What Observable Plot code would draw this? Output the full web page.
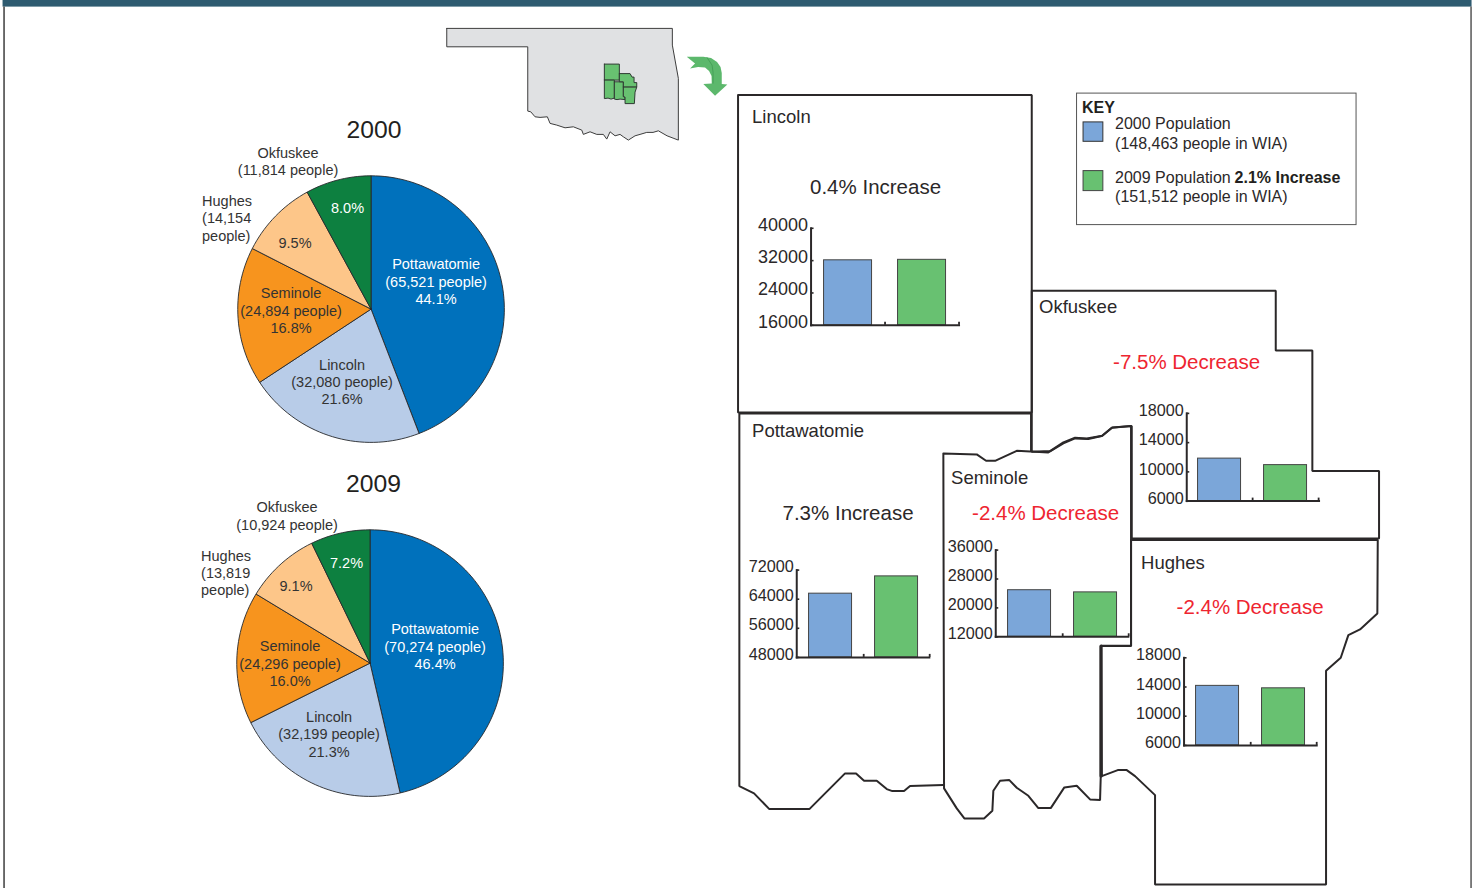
<!DOCTYPE html>
<html>
<head>
<meta charset="utf-8">
<title>Population in WIA, 2000 and 2009</title>
<script src="https://cdn.jsdelivr.net/npm/d3@7"></script>
<script src="https://cdn.jsdelivr.net/npm/@observablehq/plot@0.6"></script>
<style>
  html, body { margin: 0; padding: 0; background: #fff; }
  #page { position: relative; width: 1477px; height: 888px; overflow: hidden; font-family: "Liberation Sans", Arial, sans-serif; }
  #page > svg, #page > figure { position: absolute; margin: 0; transform: translate(-0.45px, -0.4px); }
</style>
</head>
<body>
<div id="page"></div>
<script>
// ---- Data ----
const counties = ["Pottawatomie", "Lincoln", "Seminole", "Hughes", "Okfuskee"];
const pop2000 = [65521, 32080, 24894, 14154, 11814];
const pop2009 = [70274, 32199, 24296, 13819, 10924];
const years = ["2000", "2009"];

const lincolnTicks = [16000, 24000, 32000, 40000];
const okfuskeeTicks = [6000, 10000, 14000, 18000];
const pottawatomieTicks = [48000, 56000, 64000, 72000];
const seminoleTicks = [12000, 20000, 28000, 36000];
const hughesTicks = [6000, 10000, 14000, 18000];

// ---- Colours ----
const INK = "#2b2829", RED = "#ee2530", BLUE = "#7ba6d9", GREEN = "#68c171";
const sliceColors = ["#0071bc", "#b8cce8", "#f7941e", "#fdc689", "#0d8040"];

// ---- Outlines ----
const oklahoma = [[446.7,28.3],[672.3,28.3],[672.3,45],[678.3,78.3],[678.3,140],[673,138],[667,135.7],[658.3,130.7],[653,132.3],[646.7,132.3],[640,134.3],[635,135.7],[628.3,140],[623.3,136.7],[620,134.3],[615,135.7],[610,131.7],[606.7,139],[603.3,134.3],[596.7,134.3],[590,131.7],[583.3,134.3],[581.7,130],[573.3,126.7],[565,127.7],[556.7,125],[550,123.3],[547.3,116.7],[540,117.3],[535,116.7],[530.7,111.7],[527.7,111],[527.7,46.7],[446.7,46.7],[446.7,28.3]];
const miniCounties = [
  [[604.3,64],[619.3,64],[619.3,80],[604.3,80],[604.3,64]],
  [[604.3,80],[614.3,80],[614.3,98],[611,99],[608,98],[604.3,98.5],[604.3,80]],
  [[614.3,81.7],[623.3,81.7],[623.3,96.5],[625,97],[625,99.5],[620,99],[617,99.5],[614.3,99],[614.3,81.7]],
  [[619.3,73.5],[630,73.5],[632,77],[634,77],[634,82.5],[636.7,82.5],[636.7,87],[623.3,87],[623.3,81.7],[619.3,81.7],[619.3,73.5]],
  [[623.3,87],[636.7,87],[635,92],[634.3,103.5],[625,103.5],[625,97],[623.3,96.5],[623.3,87]]
];
const arrow = [[686.7,56.7],[703.3,56.7],[711,58],[717,62],[720.5,67],[721.7,73],[721.7,84],[727.3,84.3],[715,95.7],[703.3,84],[711.7,83.3],[711.5,76],[709,71],[705,67.5],[698,67],[690,68.3],[695,63.3],[686.7,56.7]];
const arrowFold = [[707,57.5],[712,65],[713,72],[713,83]];
const lincolnShape = [[738,95],[1031.7,95],[1031.7,412.5],[738,412.5],[738,95]];
const okfuskeeShape = [[1031.7,290.7],[1275.7,290.7],[1275.7,350.3],[1312.3,350.3],[1312.3,471],[1379,471],[1379,538.5],[1131.7,538.5],[1131.7,426],[1112.3,427.3],[1102.3,435.7],[1086.7,438.3],[1075,437.7],[1063.3,442.3],[1050,451],[1031.7,451.7],[1031.7,290.7]];
const pottawatomieShape = [[1031,413.5],[739.3,413.5],[739.3,786],[754,793.3],[769.3,809],[809.3,809],[845,773.3],[856,773.3],[864,780.7],[876.7,780.7],[886.7,789],[892.3,791],[904,791],[910,786],[943.3,785]];
const pottawatomieEast = [[1031,413.5],[1031,451]];
const seminoleShape = [[943.3,453.3],[976.7,454.3],[986,460.7],[995,460.7],[1016.7,450.7],[1048.3,452.3],[1063.3,443.3],[1075,438.3],[1088.3,439],[1101.7,436],[1111.7,427.7],[1131,426],[1131,646],[1100.7,646],[1100.7,776],[1100,800],[1090,799.3],[1076.7,785.7],[1064.3,787.3],[1050.7,808],[1038.3,808],[1028.3,795.7],[1016.7,787.7],[1009.3,780],[1000,780.7],[993.3,790.7],[992.3,810.7],[984,818.3],[964.3,818.3],[956.7,808.3],[944,788.3],[943.3,453.3]];
const hughesShape = [[1131,540],[1377.7,540],[1377.3,613.3],[1360,629.3],[1348.3,635],[1340.7,657.7],[1326,670.7],[1326,884.3],[1155,884.3],[1155,795],[1135,776],[1126.7,770],[1117.7,770],[1101.7,776],[1101,645.7],[1131,645.7],[1131,540]];
const hughesWest = [[1101,646],[1101,776]];

// ---- Text (line, x, y) ----
const leftLabels = [
  ["Lincoln",752,116.5],["Okfuskee",1039,306.5],["Pottawatomie",752,430.5],["Seminole",951,477.5],["Hughes",1141,562.5]
];
const blackNotes = [["0.4% Increase",875.5,187],["7.3% Increase",848,513]];
const redNotes = [["-7.5% Decrease",1186.5,362],["-2.4% Decrease",1045.5,513],["-2.4% Decrease",1250,607]];
const yearTitles = [["2000",374,129.5],["2009",373.5,483.5]];
const pieInkCenter = [
  ["Okfuskee",288,153],["(11,814 people)",288,170.5],
  ["9.5%",295,243],
  ["Lincoln",342,365],["(32,080 people)",342,382],["21.6%",342,399],
  ["Seminole",291,293],["(24,894 people)",291,311],["16.8%",291,328],
  ["Okfuskee",287,507],["(10,924 people)",287,525],
  ["9.1%",296,586],
  ["Lincoln",329,717],["(32,199 people)",329,734],["21.3%",329,752],
  ["Seminole",290,646],["(24,296 people)",290,664],["16.0%",290,681]
];
const pieInkLeft = [
  ["Hughes",202,201],["(14,154",202,218],["people)",202,236],
  ["Hughes",201,556],["(13,819",201,573],["people)",201,590]
];
const pieWhite = [
  ["8.0%",347.5,208],["Pottawatomie",436,264],["(65,521 people)",436,282],["44.1%",436,299],
  ["7.2%",346.5,563],["Pottawatomie",435,629],["(70,274 people)",435,647],["46.4%",435,664]
];
const keyLines = [
  ["2000 Population",1115,124],["(148,463 people in WIA)",1115,144],
  ["2009 Population",1115,178],["(151,512 people in WIA)",1115,197]
];
const keyBold = [["KEY",1082,107.5],["2.1% Increase",1234.5,178]];

const page = document.getElementById("page");
const baseStyle = {background: "transparent", overflow: "visible", fontFamily: '"Liberation Sans", Arial, sans-serif'};
function place(el, left, top) {
  el.style.left = left + "px";
  el.style.top = top + "px";
  page.appendChild(el);
}

// ---- Pies (lowest layer) ----
const PIE_SIZE = 270, PIE_RADIUS = 133.3, ARC_STEPS = 2; // degrees per sample
function piePlot(values, cx, cy) {
  const arcs = d3.pie().sort(null)(values);
  const pts = arcs.flatMap((a, i) => {
    const out = [{name: counties[i], x: 0, y: 0}];
    const n = Math.max(2, Math.ceil((a.endAngle - a.startAngle) * 180 / Math.PI / ARC_STEPS));
    for (let k = 0; k <= n; ++k) {
      const t = a.startAngle + (a.endAngle - a.startAngle) * k / n;
      out.push({name: counties[i], x: Math.sin(t), y: Math.cos(t)});
    }
    out.push({name: counties[i], x: 0, y: 0});
    return out;
  });
  const lim = (PIE_SIZE / 2) / PIE_RADIUS;
  const p = Plot.plot({
    width: PIE_SIZE, height: PIE_SIZE, margin: 0,
    style: baseStyle,
    x: {domain: [-lim, lim], axis: null},
    y: {domain: [-lim, lim], axis: null},
    color: {domain: counties, range: sliceColors},
    marks: [
      Plot.line(pts, {x: "x", y: "y", z: "name", fill: "name", stroke: "#26282b", strokeWidth: 0.9, curve: "linear"})
    ]
  });
  place(p, Math.round(cx - PIE_SIZE / 2), Math.round(cy - PIE_SIZE / 2));
}
piePlot(pop2000, 370.8, 309);
piePlot(pop2009, 370, 663.4);

// ---- Page layer: map outlines, key, all text ----
const outline = (points, o) => Plot.line(points, {x: d => d[0], y: d => d[1], curve: "linear", strokeLinejoin: "miter", ...o});
const label = (rows, o) => Plot.text(rows, {x: d => d[1], y: d => d[2], text: d => d[0], lineAnchor: "middle", ...o});

const pagePlot = Plot.plot({
  width: 1477, height: 888, margin: 0,
  style: baseStyle,
  x: {domain: [0, 1477], range: [0, 1477], axis: null},
  y: {domain: [0, 888], range: [0, 888], axis: null},
  marks: [
    Plot.rect([0], {x1: 3, x2: 1472, y1: 0, y2: 7, fill: "#2e5b70"}),
    Plot.ruleX([4], {y1: 7, y2: 890, stroke: "#4a4a4a", strokeWidth: 1.6}),
    Plot.ruleX([1471], {y1: 7, y2: 890, stroke: "#4a4a4a", strokeWidth: 1.4}),

    outline(oklahoma, {fill: "#e0e1e3", stroke: "#3d3d3d", strokeWidth: 1}),
    ...miniCounties.map(c => outline(c, {fill: GREEN, stroke: "#2f3a33", strokeWidth: 1})),
    outline(arrow, {fill: "#5cb86c", stroke: "none"}),
    outline(arrowFold, {stroke: "#3f9a52", strokeWidth: 0.8}),

    outline(lincolnShape, {stroke: INK, strokeWidth: 2}),
    outline(okfuskeeShape, {stroke: INK, strokeWidth: 2}),
    outline(pottawatomieShape, {stroke: INK, strokeWidth: 2}),
    outline(pottawatomieEast, {stroke: INK, strokeWidth: 2}),
    outline(seminoleShape, {stroke: INK, strokeWidth: 2}),
    outline(hughesShape, {stroke: INK, strokeWidth: 2}),
    outline(hughesWest, {stroke: INK, strokeWidth: 3.2}),

    Plot.rect([0], {x1: 1077, x2: 1356.5, y1: 93.5, y2: 225, fill: "none", stroke: "#555", strokeWidth: 1}),
    Plot.rect([0], {x1: 1083.5, x2: 1103.3, y1: 122.3, y2: 141.7, fill: BLUE, stroke: "#333", strokeWidth: 1}),
    Plot.rect([0], {x1: 1083.5, x2: 1103.3, y1: 171, y2: 191, fill: GREEN, stroke: "#444", strokeWidth: 1}),
    label(keyLines, {fontSize: 16, fill: INK, textAnchor: "start"}),
    label(keyBold, {fontSize: 16, fill: "#231f20", fontWeight: "bold", textAnchor: "start"}),

    label(leftLabels, {fontSize: 18.5, fill: INK, textAnchor: "start"}),
    label(blackNotes, {fontSize: 20.5, fill: INK, textAnchor: "middle"}),
    label(redNotes, {fontSize: 20.5, fill: RED, textAnchor: "middle"}),

    label(yearTitles, {fontSize: 24.7, fill: "#231f20", textAnchor: "middle"}),
    label(pieInkCenter, {fontSize: 14.5, fill: "#333", textAnchor: "middle"}),
    label(pieInkLeft, {fontSize: 14.5, fill: "#333", textAnchor: "start"}),
    label(pieWhite, {fontSize: 14.5, fill: "#fff", textAnchor: "middle"})
  ]
});
place(pagePlot, 0, 0);

// ---- Bar insets ----
const M_LEFT = 60, M_TOP = 14, M_RIGHT = 4, M_BOTTOM = 6;
function barPlot(values, ticks, axisX, topY, w, h, tickFont, tickShift) {
  const lo = d3.min(ticks), hi = d3.max(ticks);
  const rows = years.map((year, i) => ({year, value: values[i]}));
  // The inset lands on whole pixels; the margins carry the fractional part.
  const left = Math.floor(axisX - M_LEFT), top = Math.floor(topY - M_TOP);
  const mLeft = axisX - left, mTop = topY - top;
  const p = Plot.plot({
    width: mLeft + w + M_RIGHT, height: mTop + h + M_BOTTOM,
    marginLeft: mLeft, marginRight: M_RIGHT, marginTop: mTop, marginBottom: M_BOTTOM,
    style: baseStyle,
    x: {type: "band", domain: years, paddingInner: 0.352, paddingOuter: 0.176, axis: null},
    y: {domain: [lo, hi], label: null, axis: null},
    color: {domain: years, range: [BLUE, GREEN]},
    marks: [
      Plot.barY(rows, {x: "year", y1: lo, y2: "value", fill: "year", stroke: "#444", strokeWidth: 1}),
      Plot.axisY({ticks, anchor: "left", label: null, tickSize: 0, tickPadding: 3, dy: tickShift, tickFormat: "d", fontSize: tickFont, fill: INK}),
      Plot.axisY({ticks, anchor: "left", label: null, tickSize: -3, fill: "none", stroke: INK, strokeWidth: 1.6}),
      Plot.frame({anchor: "left", stroke: INK, strokeWidth: 2}),
      Plot.frame({anchor: "bottom", stroke: INK, strokeWidth: 2}),
      Plot.ruleX(years, {y1: lo, y2: lo + (hi - lo) * 3 / h, dx: w / 4, stroke: INK, strokeWidth: 1.8})
    ]
  });
  place(p, left, top);
}
barPlot([pop2000[1], pop2009[1]], lincolnTicks, 811, 228.2, 148, 97, 18, -3.5);
barPlot([pop2000[4], pop2009[4]], okfuskeeTicks, 1186.7, 413.3, 132.3, 87.7, 16.2, -2.5);
barPlot([pop2000[0], pop2009[0]], pottawatomieTicks, 796.7, 570, 132.6, 87.3, 16.2, -3);
barPlot([pop2000[2], pop2009[2]], seminoleTicks, 995.7, 550, 132.6, 86.7, 16.2, -3);
barPlot([pop2000[3], pop2009[3]], hughesTicks, 1184, 657.7, 132.7, 87.6, 16.2, -2.5);
</script>
</body>
</html>
